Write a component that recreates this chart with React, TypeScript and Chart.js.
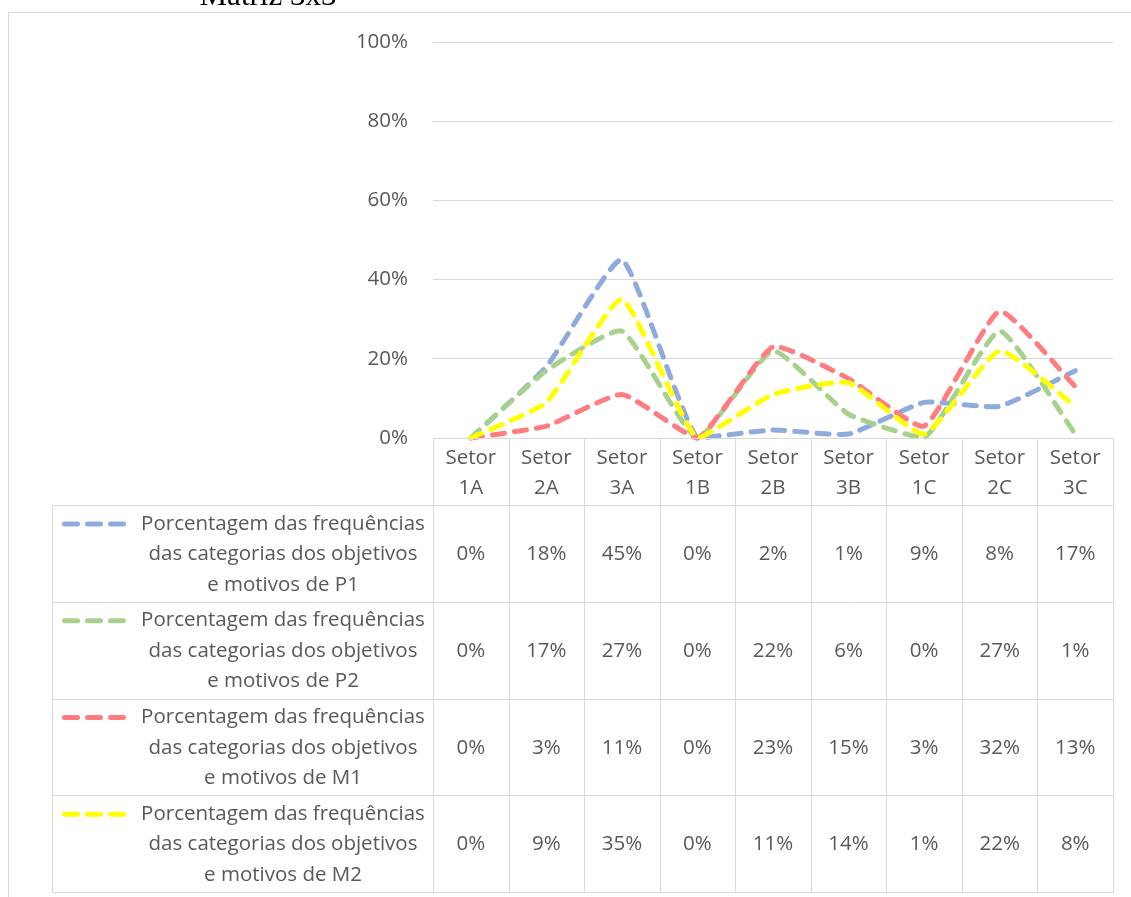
import React, { useEffect, useRef } from "react";
import { Chart, registerables } from "chart.js";

Chart.register(...registerables);

const title = "Matriz 3x3";
const categoryPrefix = "Setor";
const categories = ["1A", "2A", "3A", "1B", "2B", "3B", "1C", "2C", "3C"];
const p1 = [0, 18, 45, 0, 2, 1, 9, 8, 17];
const p2 = [0, 17, 27, 0, 22, 6, 0, 27, 1];
const m1 = [0, 3, 11, 0, 23, 15, 3, 32, 13];
const m2 = [0, 9, 35, 0, 11, 14, 1, 22, 8];
const seriesSuffixes = ["P1", "P2", "M1", "M2"];
const seriesColors = ["#8FAADC", "#A9D18E", "#FF7C80", "#FFFF00"];
const legendLines = ["Porcentagem das frequências", "das categorias dos objetivos", "e motivos de "];
const yMax = 100;
const yStep = 20;

const FONT = '"Open Sans", sans-serif';
const TEXT = "#595959";
const GRID = "#D9D9D9";

const seriesValues = [p1, p2, m1, m2];

const tablePlugin = {
  id: "dataTable",
  afterDraw(chart: any) {
    const ctx: CanvasRenderingContext2D = chart.ctx;
    const xs = chart.scales.x;
    const area = chart.chartArea;
    const step = xs.getPixelForValue(1) - xs.getPixelForValue(0);
    const colLeft = area.left;
    const colRight = area.right;
    const headerTop = area.bottom;
    const headerBottom = 505;
    const tableLeft = 52;
    const tableBottom = 892;
    const rowH = (tableBottom - headerBottom) / seriesValues.length;
    const crisp = (v: number) => Math.round(v) + 0.5;

    ctx.save();
    ctx.strokeStyle = GRID;
    ctx.lineWidth = 1;
    ctx.beginPath();
    ctx.moveTo(crisp(8), 897);
    ctx.lineTo(crisp(8), crisp(12));
    ctx.lineTo(1131, crisp(12));
    ctx.stroke();

    ctx.fillStyle = "#000";
    ctx.font = '31px "Liberation Serif", serif';
    ctx.textAlign = "center";
    ctx.textBaseline = "alphabetic";
    ctx.fillText(title, 268, 5);

    ctx.strokeStyle = GRID;
    ctx.lineWidth = 1;
    ctx.beginPath();
    ctx.moveTo(colLeft, crisp(headerTop));
    ctx.lineTo(colRight, crisp(headerTop));
    for (let r = 0; r <= seriesValues.length; r++) {
      const y = crisp(headerBottom + r * rowH);
      ctx.moveTo(tableLeft, y);
      ctx.lineTo(colRight + 1, y);
    }
    ctx.moveTo(crisp(tableLeft), crisp(headerBottom));
    ctx.lineTo(crisp(tableLeft), crisp(tableBottom));
    for (let i = 0; i <= categories.length; i++) {
      const x = crisp(xs.getPixelForValue(0) - step / 2 + i * step);
      ctx.moveTo(x, crisp(headerTop));
      ctx.lineTo(x, crisp(tableBottom));
    }
    ctx.stroke();

    ctx.fillStyle = TEXT;
    ctx.font = `20.5px ${FONT}`;
    ctx.textAlign = "center";
    ctx.textBaseline = "middle";
    const hc = (headerTop + headerBottom) / 2 + 1.5;
    categories.forEach((c, i) => {
      const x = xs.getPixelForValue(i);
      ctx.fillText(categoryPrefix, x, hc - 15);
      ctx.fillText(c, x, hc + 15);
    });

    seriesValues.forEach((vals, r) => {
      const rc = headerBottom + r * rowH + rowH / 2 + 1;
      const lines = [legendLines[0], legendLines[1], legendLines[2] + seriesSuffixes[r]];
      ctx.fillStyle = TEXT;
      ctx.textAlign = "center";
      lines.forEach((ln, k) => {
        ctx.fillText(ln, 283, rc + (k - 1) * 30.5);
      });
      ctx.save();
      ctx.strokeStyle = seriesColors[r];
      ctx.lineWidth = 5;
      ctx.lineCap = "round";
      ctx.setLineDash([13, 10]);
      ctx.beginPath();
      ctx.moveTo(64.5, rc - 30.5);
      ctx.lineTo(124, rc - 30.5);
      ctx.stroke();
      ctx.restore();
      vals.forEach((v, i) => {
        ctx.fillText(`${v}%`, xs.getPixelForValue(i), rc);
      });
    });
    ctx.restore();
  },
};

export default function App() {
  const ref = useRef<HTMLCanvasElement | null>(null);
  useEffect(() => {
    if (!ref.current) return;
    const chart = new Chart(ref.current, {
      type: "line",
      data: {
        labels: categories,
        datasets: seriesValues.map((vals, i) => ({
          label: legendLines.join(" ") + seriesSuffixes[i],
          data: vals,
          borderColor: seriesColors[i],
          backgroundColor: seriesColors[i],
          borderWidth: 5,
          borderDash: [12, 10],
          borderCapStyle: "round" as const,
          pointRadius: 0,
          tension: 0.15,
          fill: false,
          clip: false as any,
          order: seriesValues.length - i,
        })),
      },
      options: {
        animation: false,
        responsive: false,
        layout: { padding: { left: 313, top: 42, right: 18, bottom: 459 } },
        plugins: { legend: { display: false }, tooltip: { enabled: false } },
        scales: {
          x: { type: "category", display: false, offset: true },
          y: {
            min: 0,
            max: yMax,
            afterFit: (s: any) => {
              s.width = 120;
            },
            border: { display: false },
            grid: { color: GRID, lineWidth: 1, drawTicks: false },
            ticks: {
              stepSize: yStep,
              padding: 25,
              color: TEXT,
              font: { family: FONT, size: 20.5 },
              callback: (v: any) => `${v}%`,
            },
          },
        },
      },
      plugins: [tablePlugin],
    });
    return () => chart.destroy();
  }, []);
  return (
    <div style={{ position: "absolute", left: 0, top: 0, width: 1131, height: 897, background: "#fff" }}>
      <canvas ref={ref} width={1131} height={897} />
    </div>
  );
}
